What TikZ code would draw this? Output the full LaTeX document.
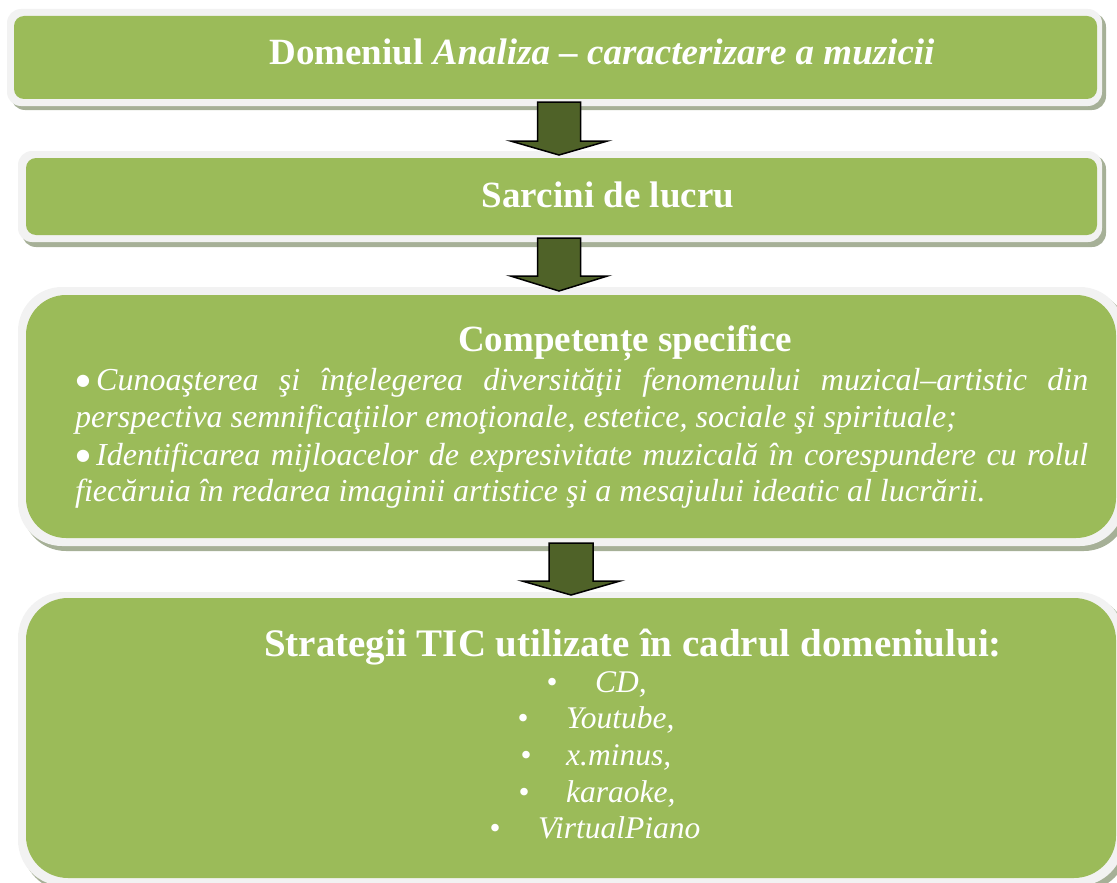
\documentclass[tikz,border=0pt]{standalone}
\usepackage{fontspec}
\setmainfont{Liberation Serif}
\newfontfamily\dotfont{DejaVu Sans}
\definecolor{boxgreen}{HTML}{9BBB59}
\definecolor{rimgrey}{HTML}{F2F2F2}
\definecolor{shadowgreen}{HTML}{A6B097}
\definecolor{arrowgreen}{HTML}{4F6228}
\newcommand{\pdot}{\makebox[20pt][l]{\raisebox{5pt}{\upshape\dotfont\fontsize{16}{16}\selectfont ●}}}
\begin{document}
\begin{tikzpicture}[x=1pt,y=-1pt,
  greenbox/.style={fill=boxgreen, draw=none, inner sep=0pt},
  blockarrow/.style={fill=arrowgreen, draw=black, line width=1.5pt, line join=miter},
  titletext/.style={text=white, font=\fontsize{37}{44}\selectfont\bfseries, inner sep=0pt, anchor=base},
  bodytext/.style={text=white, font=\fontsize{32}{38}\selectfont\itshape, inner sep=0pt, anchor=base west},
  listtext/.style={text=white, font=\fontsize{31.5}{38}\selectfont\itshape, inner sep=0pt, anchor=base west}]
\useasboundingbox (0,0) rectangle (1117,883);
\clip (0,0) rectangle (1117,883);
% box 1
\fill[shadowgreen, rounded corners=14pt] (11,13) rectangle (1106,110);
\fill[rimgrey, rounded corners=14pt] (7,9) rectangle (1102,106);
\node[greenbox, minimum width=1083pt, minimum height=83pt, rounded corners=10pt] (b1) at (555.5,57.5) {};
% box 2
\fill[shadowgreen, rounded corners=14pt] (22,155) rectangle (1106,247);
\fill[rimgrey, rounded corners=14pt] (18,151) rectangle (1102,242);
\node[greenbox, minimum width=1071pt, minimum height=77pt, rounded corners=10pt] (b2) at (561.5,196.5) {};
% box 3
\fill[shadowgreen, rounded corners=44pt] (22,291) rectangle (1128,551);
\fill[rimgrey, rounded corners=44pt] (18,287) rectangle (1124,546);
\node[greenbox, minimum width=1090pt, minimum height=243pt, rounded corners=40pt] (b3) at (571,416.5) {};
% box 4
\fill[shadowgreen, rounded corners=46pt] (22,596) rectangle (1128,891);
\fill[rimgrey, rounded corners=46pt] (18,592) rectangle (1124,886);
\node[greenbox, minimum width=1090pt, minimum height=280pt, rounded corners=42pt] (b4) at (571,738) {};
% arrows
\draw[blockarrow] (537.5,102) -- (580.5,102) -- (580.5,141) -- (607.5,141) -- (559,155) -- (510.5,141) -- (537.5,141) -- cycle;
\draw[blockarrow] (537.5,238) -- (580.5,238) -- (580.5,276) -- (607.5,276) -- (559,291) -- (510.5,276) -- (537.5,276) -- cycle;
\draw[blockarrow] (549,543) -- (593,543) -- (593,581) -- (620,581) -- (571,595) -- (522,581) -- (549,581) -- cycle;
% titles
\node[titletext] (t1) at (602,65) {Domeniul \textit{Analiza – caracterizare a muzicii}};
\node[titletext] (t2) at (608,207) {Sarcini de lucru};
\node[titletext] (t3) at (625,351) {Competențe specifice};
\node[titletext, font=\fontsize{39}{46}\selectfont\bfseries] (t4) at (633,656) {Strategii TIC utilizate în cadrul domeniului:};
% competences
\node[bodytext] (p1) at (76,390) {\makebox[1012pt][s]{\pdot Cunoaşterea şi înţelegerea diversităţii fenomenului muzical–artistic din}};
\node[bodytext] (p2) at (75,427) {perspectiva semnificaţiilor emoţionale, estetice, sociale şi spirituale;};
\node[bodytext] (p3) at (76,465) {\makebox[1012pt][s]{\pdot Identificarea mijloacelor de expresivitate muzicală în corespundere cu rolul}};
\node[bodytext] (p4) at (75,501) {fiecăruia în redarea imaginii artistice şi a mesajului ideatic al lucrării.};
% list
\node[listtext] (i1) at (546.5,692) {\makebox[48.5pt][l]{\upshape\textbullet}CD,};
\node[listtext] (i2) at (517.5,728) {\makebox[48.5pt][l]{\upshape\textbullet}Youtube,};
\node[listtext] (i3) at (520.5,765) {\makebox[45.5pt][l]{\upshape\textbullet}x.minus,};
\node[listtext] (i4) at (518.5,802) {\makebox[47.5pt][l]{\upshape\textbullet}karaoke,};
\node[listtext] (i5) at (489.5,838) {\makebox[48.5pt][l]{\upshape\textbullet}VirtualPiano};
\end{tikzpicture}
\end{document}
